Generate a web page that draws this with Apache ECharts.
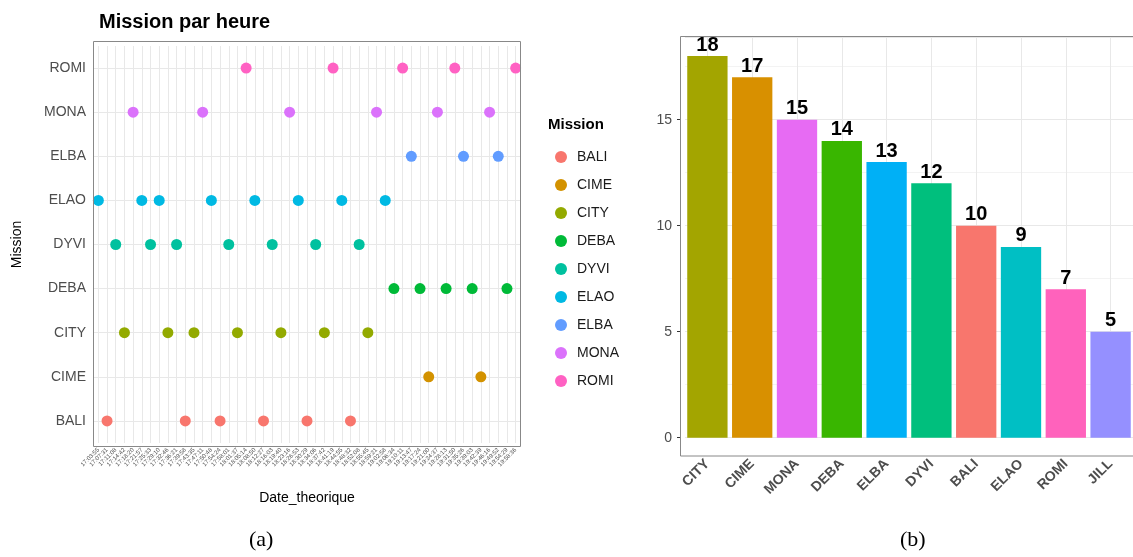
<!DOCTYPE html>
<html>
<head>
<meta charset="utf-8">
<title>Missions</title>
<style>
    body { margin: 0; background: #fff; }
    #container { width: 1133px; height: 557px; }
</style>
</head>
<body>
<div id="container"></div>
<script src="https://cdn.jsdelivr.net/npm/echarts@6/dist/echarts.min.js"></script>
<script type="text/javascript">
    // (a) heures théoriques, une mission par heure
    var heures = ['17:03:55', '17:07:31', '17:11:08', '17:14:42', '17:18:20', '17:21:57', '17:25:33',
        '17:29:10', '17:32:46', '17:36:21', '17:39:58', '17:43:35', '17:47:11', '17:50:48', '17:54:24',
        '17:58:01', '18:01:37', '18:05:14', '18:08:50', '18:12:27', '18:16:03', '18:19:40', '18:23:16',
        '18:26:53', '18:30:29', '18:34:06', '18:37:42', '18:41:19', '18:44:55', '18:48:32', '18:52:08',
        '18:55:45', '18:59:21', '19:02:58', '19:06:34', '19:10:11', '19:13:47', '19:17:24', '19:21:00',
        '19:24:37', '19:28:13', '19:31:50', '19:35:26', '19:39:03', '19:42:39', '19:46:16', '19:49:52',
        '19:54:29', '19:58:36'];
    var missionParHeure = ['ELAO', 'BALI', 'DYVI', 'CITY', 'MONA', 'ELAO', 'DYVI', 'ELAO', 'CITY', 'DYVI',
        'BALI', 'CITY', 'MONA', 'ELAO', 'BALI', 'DYVI', 'CITY', 'ROMI', 'ELAO', 'BALI',
        'DYVI', 'CITY', 'MONA', 'ELAO', 'BALI', 'DYVI', 'CITY', 'ROMI', 'ELAO', 'BALI',
        'DYVI', 'CITY', 'MONA', 'ELAO', 'DEBA', 'ROMI', 'ELBA', 'DEBA', 'CIME', 'MONA',
        'DEBA', 'ROMI', 'ELBA', 'DEBA', 'CIME', 'MONA', 'ELBA', 'DEBA', 'ROMI'];
    var missions = ['BALI', 'CIME', 'CITY', 'DEBA', 'DYVI', 'ELAO', 'ELBA', 'MONA', 'ROMI'];
    var couleursMission = ['#F8766D', '#D39200', '#93AA00', '#00BA38', '#00C19F', '#00B9E3', '#619CFF', '#DB72FB', '#FF61C3'];

    // (b) nombre par mission
    var missionsBar = ['CITY', 'CIME', 'MONA', 'DEBA', 'ELBA', 'DYVI', 'BALI', 'ELAO', 'ROMI', 'JILL'];
    var nbMissions = [18, 17, 15, 14, 13, 12, 10, 9, 7, 5];
    var couleursBar = ['#A3A500', '#D89000', '#E76BF3', '#39B600', '#00B0F6', '#00BF7D', '#F8766D', '#00BFC4', '#FF62BC', '#9590FF'];

    var gris = '#4d4d4d', grille = '#e8e8e8', police = 'Liberation Sans';

    var seriesScatter = missions.map(function (m, k) {
        var pts = [];
        for (var i = 0; i < heures.length; i++) {
            if (missionParHeure[i] === m) pts.push([heures[i], m]);
        }
        return {
            name: m,
            type: 'scatter',
            xAxisIndex: 0,
            yAxisIndex: 0,
            symbolSize: 11,
            itemStyle: { color: couleursMission[k], opacity: 1 },
            data: pts
        };
    });

    var barData = nbMissions.map(function (v, i) {
        return { value: v, itemStyle: { color: couleursBar[i] } };
    });

    var myChart = echarts.init(document.getElementById('container'));
    var option = {
        animation: false,
        textStyle: { fontFamily: police },
        title: {
            text: 'Mission par heure',
            left: 94, top: 7,
            textStyle: { fontSize: 20, fontWeight: 'bold', color: '#000', fontFamily: police }
        },
        legend: {
            orient: 'vertical',
            left: 550, top: 145,
            itemWidth: 12, itemHeight: 12, itemGap: 14,
            icon: 'circle',
            data: missions,
            textStyle: { fontSize: 14, color: '#1a1a1a', padding: [0, 0, 0, 5] }
        },
        grid: [
            { left: 94, top: 46, width: 426, height: 397 },
            { left: 685, top: 37, right: 0, height: 400.7 }
        ],
        xAxis: [{
            type: 'category', gridIndex: 0, data: heures, offset: 3,
            name: 'Date_theorique', nameLocation: 'middle', nameGap: 45,
            nameTextStyle: { fontSize: 14, color: '#000' },
            axisLine: { show: false },
            axisTick: { alignWithLabel: true, length: 3, lineStyle: { color: '#333' } },
            axisLabel: { interval: 0, rotate: 45, fontSize: 6, color: gris, margin: 3 },
            splitLine: { show: true, alignWithLabel: true, interval: 0, lineStyle: { color: grille } }
        }, {
            type: 'category', gridIndex: 1, data: missionsBar, offset: 18,
            axisLine: { show: false },
            axisTick: { alignWithLabel: true, length: 4, lineStyle: { color: '#333' } },
            axisLabel: { interval: 0, rotate: 45, fontSize: 14, fontWeight: 'bold', color: gris, margin: 6 },
            splitLine: { show: true, alignWithLabel: true, interval: 0, lineStyle: { color: grille } }
        }],
        yAxis: [{
            type: 'category', gridIndex: 0, data: missions,
            name: 'Mission', nameLocation: 'middle', nameGap: 70, nameRotate: 90,
            nameTextStyle: { fontSize: 14, color: '#000' },
            axisLine: { show: false },
            axisTick: { alignWithLabel: true, length: 4, lineStyle: { color: '#333' } },
            axisLabel: { fontSize: 14, color: gris, margin: 8 },
            splitLine: { show: true, alignWithLabel: true, interval: 0, lineStyle: { color: grille } }
        }, {
            type: 'value', gridIndex: 1, min: 0, max: 18.9, interval: 5, offset: 4,
            axisLine: { show: false },
            axisTick: { show: true, length: 4, lineStyle: { color: '#333' } },
            axisLabel: { fontSize: 14, color: gris, margin: 9, showMaxLabel: false },
            splitLine: { lineStyle: { color: grille } },
            minorTick: { show: false, splitNumber: 2 },
            minorSplitLine: { show: true, lineStyle: { color: '#f3f3f3' } }
        }],
        graphic: [
            { type: 'rect', z: 100, shape: { x: 93.5, y: 41.5, width: 427, height: 405 },
              style: { fill: null, stroke: '#888', lineWidth: 1 } },
            { type: 'rect', z: 100, shape: { x: 680.5, y: 36.5, width: 460, height: 419.5 },
              style: { fill: null, stroke: '#888', lineWidth: 1 } },
            { type: 'text', left: 548, top: 117,
              style: { text: 'Mission', font: 'bold 15px "Liberation Sans"', fill: '#000' } },
            { type: 'text', left: 249, top: 529,
              style: { text: '(a)', font: '22px "Liberation Serif"', fill: '#000' } },
            { type: 'text', left: 900, top: 529,
              style: { text: '(b)', font: '22px "Liberation Serif"', fill: '#000' } }
        ],
        series: seriesScatter.concat([{
            type: 'bar',
            xAxisIndex: 1,
            yAxisIndex: 1,
            barWidth: '90%',
            data: barData,
            label: {
                show: true, position: 'top', distance: 1,
                fontSize: 20, fontWeight: 'bold', color: '#000'
            }
        }])
    };
    myChart.setOption(option);
</script>
</body>
</html>
